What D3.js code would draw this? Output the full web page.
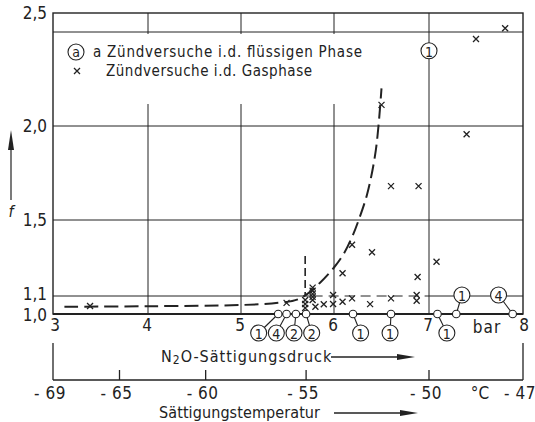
<!DOCTYPE html>
<html><head><meta charset="utf-8">
<script src="https://cdn.jsdelivr.net/npm/d3@7"></script>
<style>
body{margin:0;background:#fff;}
svg text{font-family:"Liberation Sans Narrow","DejaVu Sans Condensed",sans-serif;fill:#222;}
</style></head>
<body><svg id="c" width="535" height="422"></svg>
<script>
// ---- data ----
const xTicks = [3, 4, 5, 6, 7, 8];
const xTickLabels = ["3", "4", "5", "6", "7", "8"];
const yTicks = [1.0, 1.1, 1.5, 2.0, 2.5];
const yTickLabels = ["1,0", "1,1", "1,5", "2,0", "2,5"];
const yGridExtra = [2.4];
// gas-phase ignition tests (x = pressure in bar, f)
const gasX = [6.60, 6.89, 6.19, 6.40, 7.08, 6.09, 6.88, 5.99, 5.99, 6.09, 6.19, 5.89, 5.80, 6.38, 6.60, 6.87, 6.87, 5.49, 3.39, 6.50, 7.40, 7.50, 7.81,
              5.77, 5.77, 5.77, 5.77, 5.77, 5.69, 5.69, 5.69];
const gasF = [1.68, 1.68, 1.37, 1.33, 1.28, 1.22, 1.20, 1.105, 1.056, 1.068, 1.087, 1.054, 1.04, 1.055, 1.087, 1.105, 1.074, 1.062, 1.044, 2.09, 1.956, 2.37, 2.42,
              1.144, 1.128, 1.111, 1.095, 1.078, 1.078, 1.056, 1.033];
// liquid-phase ignition tests (on f = 1.0) with counts
const liquidX = [5.40, 5.49, 5.59, 5.70, 6.20, 6.60, 7.09, 7.29, 7.89];
const liquidCount = ["1", "4", "2", "2", "1", "1", "1", "1", "4"];
const liquidLabelX = [5.19, 5.38, 5.57, 5.76, 6.28, 6.59, 7.19, 7.35, 7.74];
const liquidLabelAbove = [false, false, false, false, false, false, false, true, true];
// boundary curve
const curveX = [3.12, 4.0, 5.0, 5.4, 5.63, 5.85, 6.0, 6.1, 6.19, 6.26, 6.35, 6.44, 6.5];
const curveF = [1.04, 1.043, 1.05, 1.062, 1.085, 1.17, 1.25, 1.32, 1.41, 1.5, 1.64, 1.87, 2.16];
// vertical dashed limit
const limitX = [5.69, 5.69];
const limitF = [1.31, 1.1];
// dashed segment of the 1.1 line
const dashed11X = [5.77, 6.98];
// lonely count label at top
const topLabelX = 7.0, topLabelF = 2.32, topLabelText = "1";
// secondary axis: saturation temperature vs. pressure
const tempLabels = ["- 69", "- 65", "- 60", "- 55", "- 50", "- 47"];
const tempPressure = [3.0, 3.7, 4.62, 5.7, 7.0, 8.0];

// ---- scales ----
const svg = d3.select("#c");
const x = d3.scaleLinear().domain(xTicks).range([53, 148, 241, 334, 429, 523]);
const y = d3.scaleLinear().domain([1.0, 1.1, 1.5, 2.0, 2.4, 2.5]).range([314, 296, 220, 126, 32, 13]);
const ink = "#222";

// grid
const g = svg.append("g").attr("stroke", ink).attr("stroke-width", 1);
[4, 5, 6, 7].forEach(v => {
  g.append("line").attr("x1", x(v)).attr("x2", x(v)).attr("y1", y(2.5)).attr("y2", y(1.0));
});
[1.5, 2.0].concat(yGridExtra).forEach(v => {
  g.append("line").attr("x1", x(3)).attr("x2", x(8)).attr("y1", y(v)).attr("y2", y(v));
});
// 1.1 line: solid parts and dashed part
g.append("line").attr("x1", x(3)).attr("x2", x(dashed11X[0])).attr("y1", y(1.1)).attr("y2", y(1.1));
g.append("line").attr("x1", x(dashed11X[1])).attr("x2", x(8)).attr("y1", y(1.1)).attr("y2", y(1.1));
g.append("line").attr("x1", x(dashed11X[0])).attr("x2", x(dashed11X[1])).attr("y1", y(1.1)).attr("y2", y(1.1))
  .attr("stroke-dasharray", "10,6");

// white area behind legend
svg.append("rect").attr("x", 56).attr("y", 34).attr("width", 284).attr("height", 70).attr("fill", "#fff");

// frame
svg.append("rect").attr("x", x(3)).attr("y", y(2.5)).attr("width", x(8) - x(3)).attr("height", y(1.0) - y(2.5))
  .attr("fill", "none").attr("stroke", ink).attr("stroke-width", 1.4);
svg.append("line").attr("x1", x(3)).attr("x2", x(8)).attr("y1", y(1.0)).attr("y2", y(1.0)).attr("stroke", ink).attr("stroke-width", 2);

// y tick labels
svg.append("g").selectAll("text").data(yTicks).join("text")
  .attr("x", 47).attr("y", (d, i) => y(d) + (d === 1.1 ? -2 : d === 1.0 ? 1 : 0))
  .attr("text-anchor", "end").attr("dominant-baseline", "central").attr("font-size", 17)
  .text((d, i) => yTickLabels[i]);
// x tick labels
svg.append("g").selectAll("text").data(xTicks).join("text")
  .attr("x", d => x(d) + (d === 3 ? 2 : d === 8 ? 1 : -1)).attr("y", 325)
  .attr("text-anchor", "middle").attr("dominant-baseline", "central").attr("font-size", 17)
  .text((d, i) => xTickLabels[i]);
svg.append("text").attr("x", 487).attr("y", 327).attr("text-anchor", "middle").attr("dominant-baseline", "central")
  .attr("font-size", 17).attr("letter-spacing", 1).text("bar");

// f label and arrow
svg.append("line").attr("x1", 11).attr("x2", 11).attr("y1", 200).attr("y2", 148).attr("stroke", ink).attr("stroke-width", 1.2);
svg.append("path").attr("d", `M11,130 L14,150 L8,150 Z`).attr("fill", ink);
svg.append("text").attr("x", 11).attr("y", 211).attr("text-anchor", "middle").attr("dominant-baseline", "central")
  .attr("font-size", 16).attr("font-style", "italic").text("f");

// curve
const line = d3.line().x(d => x(d[0])).y(d => y(d[1])).curve(d3.curveCatmullRom);
svg.append("path").attr("d", line(curveX.map((v, i) => [v, curveF[i]])))
  .attr("fill", "none").attr("stroke", ink).attr("stroke-width", 2).attr("stroke-dasharray", "14,6");
svg.append("line").attr("x1", x(limitX[0])).attr("x2", x(limitX[1])).attr("y1", y(limitF[0])).attr("y2", y(limitF[1]))
  .attr("stroke", ink).attr("stroke-width", 1.6).attr("stroke-dasharray", "8,4");

// gas-phase crosses
const cross = (gx, cx, cy, s) => {
  gx.append("path").attr("d", `M${cx - s},${cy - s}L${cx + s},${cy + s}M${cx - s},${cy + s}L${cx + s},${cy - s}`)
    .attr("stroke", ink).attr("stroke-width", 1.3).attr("fill", "none");
};
const gc = svg.append("g");
gasX.forEach((v, i) => cross(gc, x(v), y(gasF[i]), 3));

// liquid-phase circles with count labels
const gl = svg.append("g");
liquidX.forEach((v, i) => {
  const lx = x(liquidLabelX[i]);
  const ly = liquidLabelAbove[i] ? y(1.1) - 1 : 333;
  gl.append("line").attr("x1", x(v)).attr("y1", y(1.0)).attr("x2", lx).attr("y2", ly).attr("stroke", ink).attr("stroke-width", 1.1);
});
liquidX.forEach((v, i) => {
  const lx = x(liquidLabelX[i]);
  const ly = liquidLabelAbove[i] ? y(1.1) - 1 : 333;
  gl.append("circle").attr("cx", x(v)).attr("cy", y(1.0)).attr("r", 3.8).attr("fill", "#fff").attr("stroke", ink).attr("stroke-width", 1.1);
  gl.append("circle").attr("cx", lx).attr("cy", ly).attr("r", 8).attr("fill", "#fff").attr("stroke", ink).attr("stroke-width", 1.1);
  gl.append("text").attr("x", lx).attr("y", ly + 1).attr("text-anchor", "middle").attr("dominant-baseline", "central")
    .attr("font-size", 14).text(liquidCount[i]);
});
// top count label
svg.append("circle").attr("cx", x(topLabelX)).attr("cy", y(topLabelF)).attr("r", 8).attr("fill", "#fff").attr("stroke", ink).attr("stroke-width", 1.1);
svg.append("text").attr("x", x(topLabelX)).attr("y", y(topLabelF) + 1).attr("text-anchor", "middle").attr("dominant-baseline", "central")
  .attr("font-size", 14).text(topLabelText);

// legend
svg.append("circle").attr("cx", 76).attr("cy", 52).attr("r", 8).attr("fill", "#fff").attr("stroke", ink).attr("stroke-width", 1.1);
svg.append("text").attr("x", 76).attr("y", 52).attr("text-anchor", "middle").attr("dominant-baseline", "central").attr("font-size", 14).text("a");
svg.append("text").attr("x", 93).attr("y", 52).attr("dominant-baseline", "central").attr("font-size", 15)
  .attr("textLength", 269).attr("lengthAdjust", "spacing").text("a Zündversuche i.d. flüssigen Phase");
cross(svg, 77, 71, 3);
svg.append("text").attr("x", 106).attr("y", 71).attr("dominant-baseline", "central").attr("font-size", 15)
  .attr("textLength", 206).attr("lengthAdjust", "spacing").text("Zündversuche i.d. Gasphase");

// lower axis (temperature)
const la = svg.append("g").attr("stroke", ink).attr("stroke-width", 1.3);
la.append("line").attr("x1", x(3)).attr("x2", x(3)).attr("y1", 343).attr("y2", 380);
la.append("line").attr("x1", x(8)).attr("x2", x(8)).attr("y1", 343).attr("y2", 380);
la.append("line").attr("x1", x(3)).attr("x2", x(8)).attr("y1", 380).attr("y2", 380);
tempPressure.slice(1, -1).forEach(p => la.append("line").attr("x1", x(p)).attr("x2", x(p)).attr("y1", 370).attr("y2", 380));
svg.append("g").selectAll("text").data(tempPressure).join("text")
  .attr("x", d => x(d) - 3).attr("y", 393).attr("text-anchor", "middle").attr("dominant-baseline", "central")
  .attr("font-size", 17).attr("letter-spacing", 0.5).text((d, i) => tempLabels[i]);
svg.append("text").attr("x", 480).attr("y", 393).attr("text-anchor", "middle").attr("dominant-baseline", "central")
  .attr("font-size", 17).text("°C");

// axis titles with arrows
const t1 = svg.append("text").attr("x", 161).attr("y", 356).attr("dominant-baseline", "central").attr("font-size", 16)
  .attr("letter-spacing", 1);
t1.append("tspan").text("N");
t1.append("tspan").attr("dy", 4).attr("font-size", 12).text("2");
t1.append("tspan").attr("dy", -4).text("O-Sättigungsdruck");
svg.append("text").attr("x", 159).attr("y", 412).attr("dominant-baseline", "central").attr("font-size", 16)
  .attr("letter-spacing", 1).attr("textLength", 162).attr("lengthAdjust", "spacing").text("Sättigungstemperatur");
const arrow = (x1, x2, yy) => {
  svg.append("line").attr("x1", x1).attr("x2", x2 - 14).attr("y1", yy).attr("y2", yy).attr("stroke", ink).attr("stroke-width", 1.3);
  svg.append("path").attr("d", `M${x2},${yy} L${x2 - 18},${yy - 3} L${x2 - 18},${yy + 3} Z`).attr("fill", ink);
};
arrow(331, 415, 357);
arrow(334, 418, 413);
</script></body></html>
